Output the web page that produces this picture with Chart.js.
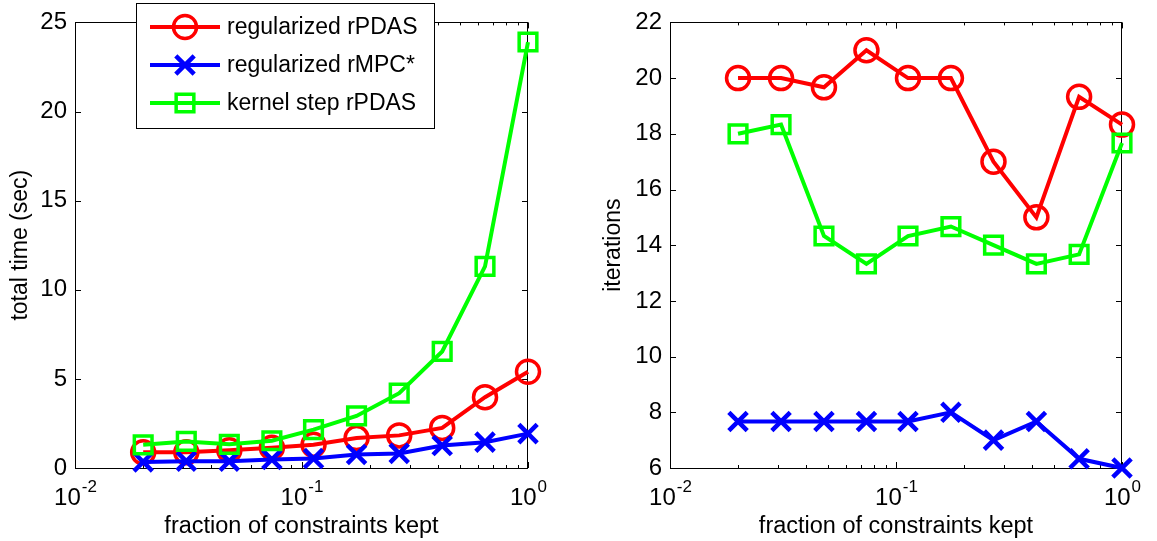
<!DOCTYPE html>
<html lang="en">
<head>
    <meta charset="UTF-8">
    <title>rPDAS timing and iterations</title>
    <script src="https://cdn.jsdelivr.net/npm/chart.js"></script>
    <style>
        body { margin: 0; background: #fff; }
        #wrap { position: relative; width: 1157px; height: 541px; }
        #wrap canvas { position: absolute; top: 0; }
    </style>
</head>
<body>
    <div id="wrap">
        <canvas id="timeChart" width="580" height="541" style="left:0"></canvas>
        <canvas id="iterChart" width="577" height="541" style="left:580px"></canvas>
    </div>

    <script>
        // fraction of constraints kept (x, log scale)
        const fractions = [0.02, 0.031, 0.048, 0.074, 0.113, 0.175, 0.27, 0.418, 0.646, 1.0];

        const seriesLabels = ['regularized rPDAS', 'regularized rMPC*', 'kernel step rPDAS'];

        // total time (sec)
        const timeRegPDAS    = [0.88, 0.88, 1.0, 1.14, 1.3, 1.68, 1.83, 2.25, 3.97, 5.4];
        const timeRegMPC     = [0.34, 0.38, 0.38, 0.48, 0.53, 0.76, 0.82, 1.26, 1.45, 1.93];
        const timeKernelPDAS = [1.3, 1.49, 1.33, 1.53, 2.15, 2.92, 4.2, 6.54, 11.31, 23.9];

        // iterations
        const iterRegPDAS    = [20, 20, 19.67, 21, 20, 20, 17, 15, 19.33, 18.33];
        const iterRegMPC     = [7.67, 7.67, 7.67, 7.67, 7.67, 8, 7, 7.67, 6.33, 6];
        const iterKernelPDAS = [18, 18.33, 14.33, 13.33, 14.33, 14.67, 14, 13.33, 13.67, 17.67];

        const FONT = "'Liberation Sans', Arial, Helvetica, sans-serif";

        const styles = [
            { color: '#ff0000', pointStyle: 'circle', radius: 11.5, width: 3.5, order: 3 },
            { color: '#0000ff', pointStyle: 'crossRot', radius: 13, width: 4.5, order: 2 },
            { color: '#00ff00', pointStyle: 'rect', radius: 12.5, width: 3.5, order: 1 }
        ];

        function makeDatasets(seriesList) {
            return seriesList.map((vals, i) => ({
                label: seriesLabels[i],
                data: vals.map((v, k) => ({ x: fractions[k], y: v })),
                borderColor: styles[i].color,
                backgroundColor: 'rgba(0,0,0,0)',
                borderWidth: 4,
                pointStyle: styles[i].pointStyle,
                pointRadius: styles[i].radius,
                pointBorderWidth: styles[i].width,
                pointBorderColor: styles[i].color,
                pointBackgroundColor: 'rgba(0,0,0,0)',
                tension: 0,
                clip: false,
                order: styles[i].order
            }));
        }

        // box, inward ticks and 10^n labels like a matlab axes
        const boxAxes = {
            id: 'boxAxes',
            beforeDatasetsDraw(chart) {
                const ctx = chart.ctx;
                const a = chart.chartArea;
                const xs = chart.scales.x, ys = chart.scales.y;
                ctx.save();
                ctx.strokeStyle = '#000';
                ctx.lineWidth = 1;
                ctx.beginPath();
                ctx.rect(Math.round(a.left) + 0.5, Math.round(a.top) + 0.5,
                    Math.round(a.right - a.left) - 1, Math.round(a.bottom - a.top));
                ctx.stroke();

                ctx.beginPath();
                ys.ticks.forEach(t => {
                    const y = Math.round(ys.getPixelForValue(t.value)) + 0.5;
                    ctx.moveTo(a.left, y); ctx.lineTo(a.left + 6, y);
                    ctx.moveTo(a.right, y); ctx.lineTo(a.right - 6, y);
                });
                for (let dec = 0.01; dec < 1; dec *= 10) {
                    for (let k = 1; k <= 10; k++) {
                        const v = dec * k;
                        const len = (k === 1 || k === 10) ? 6 : 3;
                        const x = Math.round(xs.getPixelForValue(v)) + 0.5;
                        ctx.moveTo(x, a.bottom); ctx.lineTo(x, a.bottom - len);
                        ctx.moveTo(x, a.top); ctx.lineTo(x, a.top + len);
                    }
                }
                ctx.stroke();
                ctx.restore();
            },
            afterDraw(chart) {
                const ctx = chart.ctx;
                const xs = chart.scales.x;
                const a = chart.chartArea;
                ctx.save();
                ctx.fillStyle = '#000';
                ctx.textBaseline = 'alphabetic';
                ctx.textAlign = 'left';
                [-2, -1, 0].forEach(e => {
                    const px = xs.getPixelForValue(Math.pow(10, e));
                    const exp = e < 0 ? '-' + (-e) : String(e);
                    ctx.font = '24px ' + FONT;
                    const w1 = ctx.measureText('10').width;
                    ctx.font = '17px ' + FONT;
                    const w2 = ctx.measureText(exp).width;
                    const x0 = px - (w1 + w2) / 2;
                    ctx.font = '24px ' + FONT;
                    ctx.fillText('10', x0, a.bottom + 37);
                    ctx.font = '17px ' + FONT;
                    ctx.fillText(exp, x0 + w1 + 1, a.bottom + 24);
                });
                ctx.restore();
            }
        };

        // legend box drawn over the top of the left axes
        const boxLegend = {
            id: 'boxLegend',
            afterDraw(chart) {
                const ctx = chart.ctx;
                const sets = chart.data.datasets;
                ctx.save();
                ctx.fillStyle = '#fff';
                ctx.strokeStyle = '#000';
                ctx.lineWidth = 1;
                ctx.fillRect(136, 3, 298, 125);
                ctx.strokeRect(136.5, 3.5, 298, 125);
                sets.forEach((ds, i) => {
                    const y = 27 + i * 38;
                    ctx.strokeStyle = ds.borderColor;
                    ctx.lineWidth = ds.borderWidth;
                    ctx.beginPath();
                    ctx.moveTo(150, y); ctx.lineTo(220, y);
                    ctx.stroke();
                    ctx.lineWidth = ds.pointBorderWidth;
                    ctx.fillStyle = 'rgba(0,0,0,0)';
                    Chart.helpers.drawPoint(ctx, {
                        pointStyle: ds.pointStyle,
                        radius: ds.pointRadius,
                        rotation: 0,
                        borderWidth: ds.pointBorderWidth
                    }, 185, y);
                    ctx.fillStyle = '#000';
                    ctx.font = '23px ' + FONT;
                    ctx.textBaseline = 'middle';
                    ctx.fillText(ds.label, 227, y + 1);
                });
                ctx.restore();
            }
        };

        function makeChart(id, datasets, yOpts, pad, yTitle, legend) {
            return new Chart(document.getElementById(id), {
                type: 'line',
                data: { datasets: datasets },
                options: {
                    responsive: false,
                    animation: false,
                    layout: { padding: pad },
                    plugins: { legend: { display: false }, tooltip: { enabled: false } },
                    scales: {
                        x: {
                            type: 'logarithmic',
                            min: 0.01,
                            max: 1,
                            grid: { display: false, drawTicks: false },
                            border: { display: false },
                            ticks: { display: false },
                            title: {
                                display: true,
                                text: 'fraction of constraints kept',
                                color: '#000',
                                font: { family: FONT, size: 23.5 },
                                padding: { top: 0, bottom: 0 }
                            },
                            afterFit: s => { s.height = 73; }
                        },
                        y: {
                            type: 'linear',
                            min: yOpts.min,
                            max: yOpts.max,
                            grid: { display: false, drawTicks: false },
                            border: { display: false },
                            ticks: {
                                stepSize: yOpts.step,
                                color: '#000',
                                padding: 8,
                                font: { family: FONT, size: 24 }
                            },
                            title: {
                                display: true,
                                text: yTitle,
                                color: '#000',
                                font: { family: FONT, size: 23 },
                                padding: { top: yOpts.titlePad, bottom: 0 }
                            },
                            afterFit: s => { s.width = yOpts.width; }
                        }
                    }
                },
                plugins: legend ? [boxAxes, boxLegend] : [boxAxes]
            });
        }

        makeChart('timeChart',
            makeDatasets([timeRegPDAS, timeRegMPC, timeKernelPDAS]),
            { min: 0, max: 25, step: 5, width: 75, titlePad: 7 },
            { left: 0, right: 52, top: 16, bottom: 0 },
            'total time (sec)', true);

        makeChart('iterChart',
            makeDatasets([iterRegPDAS, iterRegMPC, iterKernelPDAS]),
            { min: 6, max: 22, step: 2, width: 90, titlePad: 20 },
            { left: 0, right: 35, top: 16, bottom: 0 },
            'iterations', false);
    </script>
</body>
</html>
